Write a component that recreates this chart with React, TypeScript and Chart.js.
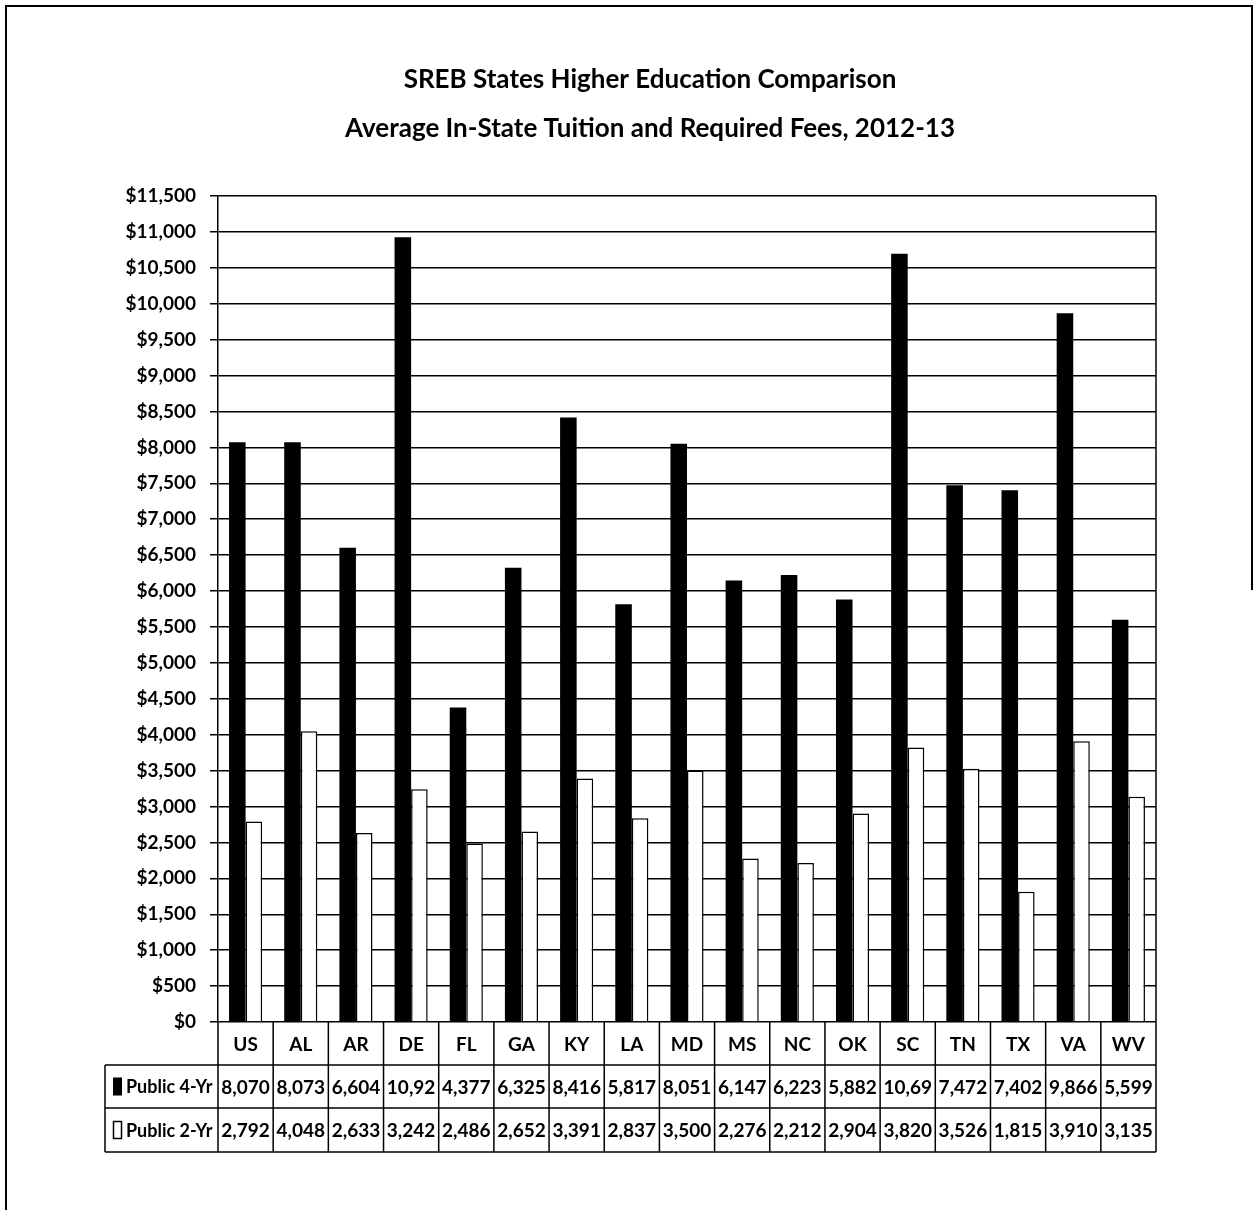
import React, { useEffect, useRef } from "react";
import { Chart, registerables } from "chart.js";

Chart.register(...registerables);

const categories = ["US", "AL", "AR", "DE", "FL", "GA", "KY", "LA", "MD", "MS", "NC", "OK", "SC", "TN", "TX", "VA", "WV"];
const public4Yr = [8070, 8073, 6604, 10925, 4377, 6325, 8416, 5817, 8051, 6147, 6223, 5882, 10695, 7472, 7402, 9866, 5599];
const public2Yr = [2792, 4048, 2633, 3242, 2486, 2652, 3391, 2837, 3500, 2276, 2212, 2904, 3820, 3526, 1815, 3910, 3135];
const seriesLabels = ["Public 4-Yr", "Public 2-Yr"];
const titleLines = [
  "SREB States Higher Education Comparison",
  "Average In-State Tuition and Required Fees, 2012-13",
];
const yMin = 0;
const yMax = 11500;
const yStep = 500;

const FONT = "Lato, 'Open Sans', sans-serif";

const fmt = (v: number) => v.toLocaleString("en-US");

const framePlugin = {
  id: "frameAndTable",
  afterDraw(chart: any) {
    const ctx: CanvasRenderingContext2D = chart.ctx;
    const area = chart.chartArea;
    const xs = chart.scales.x;
    const n = categories.length;
    const colW = (area.right - area.left) / n;

    ctx.save();
    // outer frame
    ctx.strokeStyle = "#000";
    ctx.lineWidth = 2;
    ctx.beginPath();
    ctx.moveTo(6, 1210);
    ctx.lineTo(6, 6);
    ctx.lineTo(1252, 6);
    ctx.lineTo(1252, 590);
    ctx.stroke();

    // title
    ctx.fillStyle = "#000";
    ctx.textAlign = "center";
    ctx.textBaseline = "middle";
    ctx.font = `bold 26px ${FONT}`;
    ctx.fillText(titleLines[0], 650, 80);
    ctx.fillText(titleLines[1], 650, 129);

    // plot right border
    ctx.lineWidth = 1.5;
    ctx.beginPath();
    ctx.moveTo(area.right, area.top);
    ctx.lineTo(area.right, area.bottom);
    ctx.stroke();

    // data table
    const tLeft = 105;
    const r0 = area.bottom;
    const r1 = r0 + 43;
    const r2 = r1 + 43;
    const r3 = r2 + 44;
    ctx.beginPath();
    [r1, r2, r3].forEach((y) => {
      ctx.moveTo(tLeft, y);
      ctx.lineTo(area.right, y);
    });
    ctx.moveTo(tLeft, r1);
    ctx.lineTo(tLeft, r3);
    for (let i = 0; i <= n; i++) {
      const bx = i < n ? xs.getPixelForValue(i) - colW / 2 : xs.getPixelForValue(n - 1) + colW / 2;
      ctx.moveTo(bx, r0);
      ctx.lineTo(bx, r3);
    }
    ctx.stroke();

    ctx.font = `bold 19px ${FONT}`;
    ctx.textAlign = "center";
    const fitText = (s: string, w: number) => {
      let t = s;
      while (t.length > 1 && ctx.measureText(t).width > w) t = t.slice(0, -1);
      return t;
    };
    categories.forEach((c, i) => {
      const cx = xs.getPixelForValue(i);
      ctx.fillText(c, cx, (r0 + r1) / 2 + 1);
      ctx.fillText(fitText(fmt(public4Yr[i]), colW - 5), cx, (r1 + r2) / 2 + 1);
      ctx.fillText(fitText(fmt(public2Yr[i]), colW - 5), cx, (r2 + r3) / 2 + 1);
    });

    // legend keys
    ctx.textAlign = "left";
    ctx.fillStyle = "#000";
    ctx.font = `bold 18px ${FONT}`;
    ctx.fillRect(113, (r1 + r2) / 2 - 9, 9, 18);
    ctx.fillText(seriesLabels[0], 126, (r1 + r2) / 2 + 1);
    ctx.lineWidth = 1.5;
    ctx.strokeRect(113.5, (r2 + r3) / 2 - 8.5, 8, 17);
    ctx.fillText(seriesLabels[1], 126, (r2 + r3) / 2 + 1);
    ctx.restore();
  },
};

export default function App() {
  const ref = useRef<HTMLCanvasElement | null>(null);
  useEffect(() => {
    if (!ref.current) return;
    const chart = new Chart(ref.current, {
      type: "bar",
      data: {
        labels: categories,
        datasets: [
          {
            label: seriesLabels[0],
            data: public4Yr,
            backgroundColor: "#000",
            borderWidth: 0,
            categoryPercentage: 0.6,
            barPercentage: 1,
          },
          {
            label: seriesLabels[1],
            data: public2Yr,
            backgroundColor: "#fff",
            borderColor: "#000",
            borderWidth: 1.5,
            categoryPercentage: 0.6,
            barPercentage: 1,
          },
        ],
      },
      options: {
        animation: false,
        responsive: false,
        devicePixelRatio: 1,
        layout: { padding: { left: 0, top: 196, right: 101, bottom: 188 } },
        plugins: {
          legend: { display: false },
          title: { display: false },
          tooltip: { enabled: false },
        },
        scales: {
          x: { display: false, offset: true },
          y: {
            min: yMin,
            max: yMax,
            afterFit: (s: any) => {
              s.width = 218;
            },
            ticks: {
              stepSize: yStep,
              padding: 14,
              color: "#000",
              font: { family: FONT, size: 19, weight: "bold" },
              callback: (v: any) => "$" + fmt(Number(v)),
            },
            grid: { color: "#000", lineWidth: 1.5, tickLength: 8, drawTicks: true },
            border: { display: true, color: "#000", width: 1.5 },
          },
        },
      },
      plugins: [framePlugin],
    });
    return () => chart.destroy();
  }, []);
  return (
    <div style={{ position: "absolute", left: 0, top: 0, width: 1257, height: 1210, background: "#fff" }}>
      <canvas ref={ref} width={1257} height={1210} style={{ display: "block" }} />
    </div>
  );
}
